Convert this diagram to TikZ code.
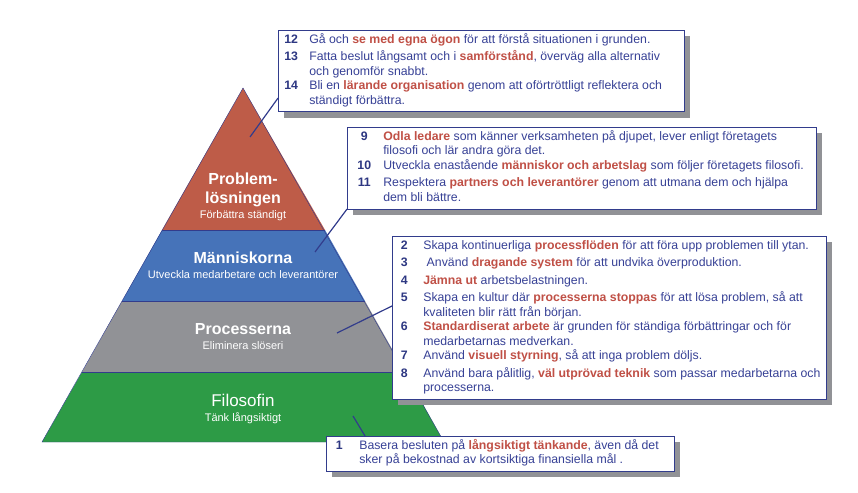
\documentclass[tikz,border=0pt]{standalone}
\usepackage{fontspec}
\setmainfont{Liberation Sans}
\usepackage{array}
\usetikzlibrary{shadows}
\definecolor{numcol}{RGB}{45,55,130}
\definecolor{txtcol}{RGB}{55,65,150}
\definecolor{hlcol}{RGB}{192,80,70}
\definecolor{edgecol}{RGB}{50,60,140}
\definecolor{redband}{RGB}{190,92,72}
\definecolor{blueband}{RGB}{70,115,185}
\definecolor{grayband}{RGB}{145,146,150}
\definecolor{greenband}{RGB}{45,155,70}
\newcommand{\hl}[1]{\textbf{\color{hlcol}#1}}
\newcommand{\rowitem}[2]{\textbf{\color{numcol}#1} & #2\\[3pt]}
\newcolumntype{T}[1]{>{\raggedright\arraybackslash}p{#1}}
\tikzset{
  textbox/.style={draw=edgecol, semithick, fill=white, anchor=north west, inner sep=3pt,
    text=txtcol, font=\fontsize{12.3}{14.5}\selectfont,
    drop shadow={shadow xshift=6pt, shadow yshift=-6pt, fill=grayband, opacity=1}},
  band/.style={draw=edgecol, thin},
  bigtitle/.style={text=white, font=\bfseries\fontsize{16}{19}\selectfont, align=center},
  subtitle/.style={text=white, font=\fontsize{11}{12}\selectfont},
  link/.style={draw=edgecol, line width=1.2pt}
}
\begin{document}
\begin{tikzpicture}[x=1pt,y=-1pt]
  \useasboundingbox (0,0) rectangle (858,492);
  %pyramid bands
  \fill[redband] (243,88) -- (325,230) -- (162,230) -- cycle;
  \fill[blueband] (162,230) -- (325,230) -- (365,301) -- (122,301) -- cycle;
  \fill[grayband] (122,301) -- (365,301) -- (405,372) -- (82,372) -- cycle;
  \fill[greenband] (82,372) -- (405,372) -- (444,442) -- (42,442) -- cycle;
  \draw[band] (243,88) -- (444,442) -- (42,442) -- cycle;
  \draw[band] (162,230) -- (325,230) (122,301) -- (365,301) (82,372) -- (405,372);
  %pyramid texts
  \node[bigtitle] (probl) at (243,190) {Problem-\\lösningen};
  \node[subtitle] (probsub) at (243,216) {Förbättra ständigt};
  \node[bigtitle] (manni) at (243,258) {Människorna};
  \node[subtitle] (mannisub) at (243,275) {Utveckla medarbetare och leverantörer};
  \node[bigtitle, font=\fontsize{17}{20}\selectfont] (filo) at (243,400) {Filosofin};
  \node[bigtitle] (proc) at (243,329) {Processerna};
  \node[subtitle] (procsub) at (243,346) {Eliminera slöseri};
  \node[subtitle] (filosub) at (243,418) {Tänk långsiktigt};
  %link targets
  \coordinate (tprobl) at (250,137);
  \coordinate (tmanni) at (315,252);
  \coordinate (tproc) at (337,333);
  \coordinate (tfilo) at (353,416);
  %boxes
  \node[textbox] (boxa) at (278,30) {\begin{tabular}{@{\hspace{3pt}}T{25pt}@{}T{372pt}@{}}
    \rowitem{12}{Gå och \hl{se med egna ögon} för att förstå situationen i grunden.}
    \rowitem{13}{Fatta beslut långsamt och i \hl{samförstånd}, överväg alla alternativ och genomför snabbt.}
    \rowitem{14}{Bli en \hl{lärande organisation} genom att oförtröttligt reflektera och ständigt förbättra.}
  \end{tabular}};
  \node[textbox] (boxb) at (347,127) {\begin{tabular}{@{}>{\centering}p{28pt}@{\hspace{5pt}}T{430pt}@{}}
    \rowitem{9}{\hl{Odla ledare} som känner verksamheten på djupet, lever enligt företagets filosofi och lär andra göra det.}
    \rowitem{10}{Utveckla enastående \hl{människor och arbetslag} som följer företagets filosofi.}
    \rowitem{11}{Respektera \hl{partners och leverantörer} genom att utmana dem och hjälpa dem bli bättre.}
  \end{tabular}};
  \node[textbox] (boxc) at (392,236) {\begin{tabular}{@{}>{\centering}p{18pt}@{\hspace{10pt}}T{400pt}@{}}
    \rowitem{2}{Skapa kontinuerliga \hl{processflöden} för att föra upp problemen till ytan.}
    \rowitem{3}{\ Använd \hl{dragande system} för att undvika överproduktion.}
    \rowitem{4}{\hl{Jämna ut} arbetsbelastningen.}
    \rowitem{5}{Skapa en kultur där \hl{processerna stoppas} för att lösa problem, så att kvaliteten blir rätt från början.}
    \rowitem{6}{\hl{Standardiserat arbete} är grunden för ständiga förbättringar och för medarbetarnas medverkan.}
    \rowitem{7}{Använd \hl{visuell styrning}, så att inga problem döljs.}
    \rowitem{8}{Använd bara pålitlig, \hl{väl utprövad teknik} som passar medarbetarna och processerna.}
  \end{tabular}};
  \node[textbox] (boxd) at (326,436) {\begin{tabular}{@{}>{\centering}p{20pt}@{\hspace{10pt}}T{312pt}@{}}
    \textbf{\color{numcol}1} & Basera besluten på \hl{långsiktigt tänkande}, även då det sker på bekostnad av kortsiktiga finansiella mål .
  \end{tabular}};
  %links
  \draw[link] (boxa.south west) ++(0,-14) -- (tprobl);
  \draw[link] (boxb.south west) -- (tmanni);
  \draw[link] (boxc.north west) ++(0,70) -- (tproc);
  \draw[link] (boxd.north west) ++(39,0) -- (tfilo);
\end{tikzpicture}
\end{document}
